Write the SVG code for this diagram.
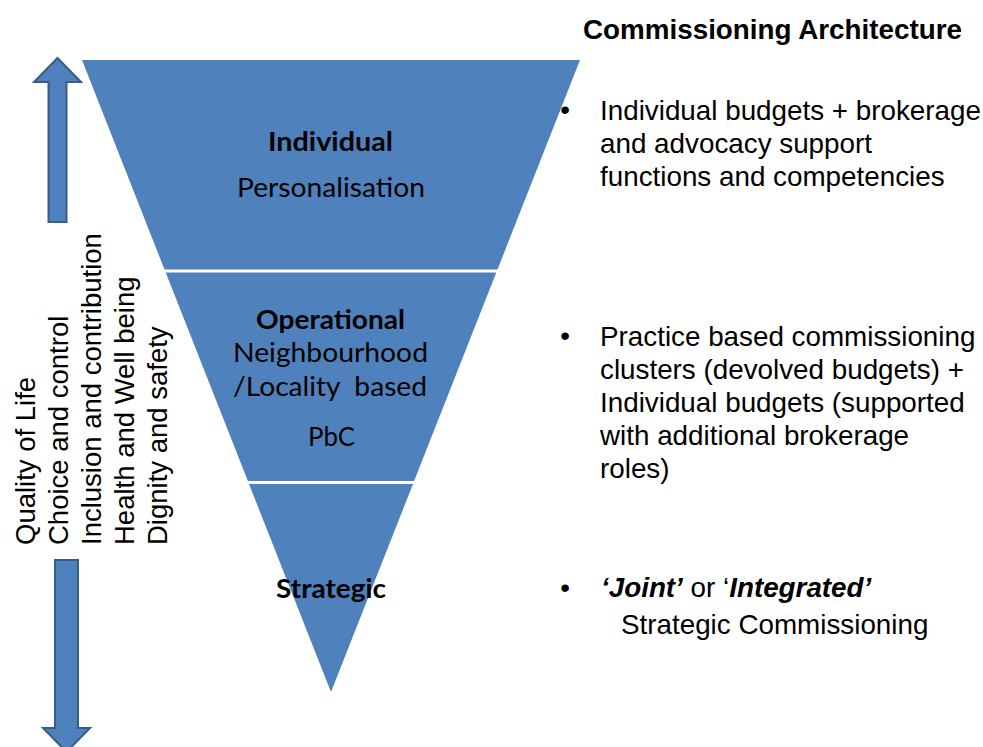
<svg xmlns="http://www.w3.org/2000/svg" width="983" height="747" viewBox="0 0 983 747">
  <style>
    .tier { fill: #4F81BD; }
    .arrow { fill: #4F81BD; stroke: #385D8A; stroke-width: 2; stroke-linejoin: miter; }
    .tt { font-family: Lato, "Open Sans", sans-serif; font-size: 27.5px; fill: #000; text-anchor: middle; }
    .tb { font-weight: bold; }
    .side { font-family: "Liberation Sans", Arial, sans-serif; font-size: 27.8px; fill: #000; }
    .rt { font-family: "Liberation Sans", Arial, sans-serif; font-size: 27.5px; fill: #000; }
  </style>
  <rect width="983" height="747" fill="#FFFFFF"/>

  <g id="tier-individual">
    <polygon class="tier" points="82,60 580,60 497.5,269.5 164.5,269.5"/>
    <text class="tt tb" x="330.5" y="151" textLength="125" lengthAdjust="spacingAndGlyphs">Individual</text>
    <text class="tt" x="331" y="197" textLength="188" lengthAdjust="spacingAndGlyphs">Personalisation</text>
  </g>

  <g id="tier-operational">
    <polygon class="tier" points="165.7,272.5 496.3,272.5 414.1,481 247.9,481"/>
    <text class="tt tb" x="330.5" y="329" textLength="149" lengthAdjust="spacingAndGlyphs">Operational</text>
    <text class="tt" x="330.5" y="362" textLength="195" lengthAdjust="spacingAndGlyphs">Neighbourhood</text>
    <text class="tt" x="330" y="396" textLength="194" lengthAdjust="spacingAndGlyphs" xml:space="preserve">/Locality  based</text>
    <text class="tt" x="331.5" y="446" textLength="47" lengthAdjust="spacingAndGlyphs">PbC</text>
  </g>

  <g id="tier-strategic">
    <polygon class="tier" points="249,484 413,484 331,692"/>
    <text class="tt tb" x="331" y="598" textLength="110" lengthAdjust="spacingAndGlyphs">Strategic</text>
  </g>

  <g id="arrows">
    <polygon class="arrow" points="57.5,58 81,82 66.5,82 66.5,222 48.5,222 48.5,82 34,82"/>
    <polygon class="arrow" points="55,560 78,560 78,728 90,728 66.5,752 43,728 55,728"/>
  </g>

  <g id="outcomes">
    <text class="rt" transform="translate(34.5,545) rotate(-90)">Quality of Life</text>
    <text class="rt" transform="translate(67.5,545) rotate(-90)">Choice and control</text>
    <text class="rt" transform="translate(101,545) rotate(-90)">Inclusion and contribution</text>
    <text class="rt" transform="translate(134,545) rotate(-90)">Health and Well being</text>
    <text class="rt" transform="translate(167,545) rotate(-90)">Dignity and safety</text>
  </g>

  <g id="title">
    <text class="side" x="583" y="39" font-weight="bold" font-size="27.6px">Commissioning Architecture</text>
  </g>

  <g id="desc-individual">
    <text class="side" x="565" y="119" text-anchor="middle">•</text>
    <text class="side" x="600" y="120">Individual budgets + brokerage</text>
    <text class="side" x="600" y="153">and advocacy support</text>
    <text class="side" x="600" y="186">functions and competencies</text>
  </g>

  <g id="desc-operational">
    <text class="side" x="565" y="345" text-anchor="middle">•</text>
    <text class="side" x="600" y="346">Practice based commissioning</text>
    <text class="side" x="600" y="379">clusters (devolved budgets) +</text>
    <text class="side" x="600" y="412">Individual budgets (supported</text>
    <text class="side" x="600" y="445">with additional brokerage</text>
    <text class="side" x="600" y="478">roles)</text>
  </g>

  <g id="desc-strategic">
    <text class="side" x="565" y="597" text-anchor="middle">•</text>
    <text class="side" x="601" y="597"><tspan font-weight="bold" font-style="italic">‘Joint’</tspan> or ‘<tspan font-weight="bold" font-style="italic">Integrated’</tspan></text>
    <text class="side" x="621" y="634">Strategic Commissioning</text>
  </g>
</svg>
